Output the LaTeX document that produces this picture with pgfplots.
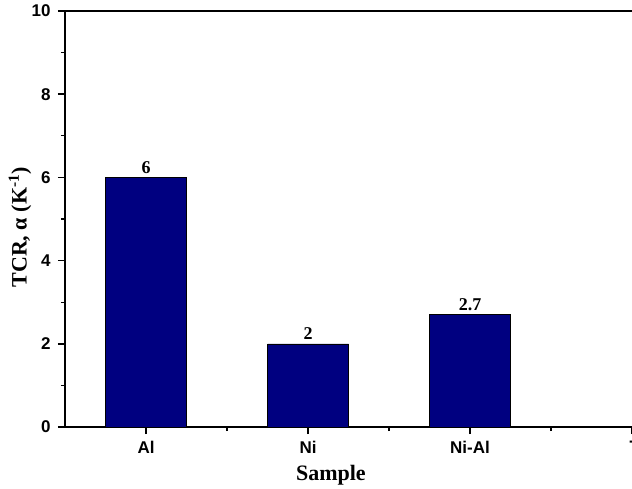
\documentclass[border=0pt]{standalone}
\usepackage{fontspec}
\setmainfont{Liberation Serif}
\newfontfamily\arial{Liberation Sans}
\usepackage{pgfplots}
\pgfplotsset{compat=1.18}
\definecolor{navybar}{RGB}{0,0,128}
\begin{document}
\begin{tikzpicture}
\begin{axis}[
  at={(65pt,61pt)}, anchor=south west,
  width=567pt, height=416pt, scale only axis,
  xmin=-0.5, xmax=3, ymin=0, ymax=10,
  clip=false,
  ybar, bar width=0.5,
  axis lines=left, axis line style={-, line width=1.4pt},
  xtick={0,1,2,3}, xticklabels={Al,Ni,Ni-Al,-},
  ytick={0,2,4,6,8,10},
  minor x tick num=1, minor y tick num=1,
  tick align=outside,
  major tick length=7pt, minor tick length=4pt,
  every tick/.style={line width=1.4pt, black},
  /pgf/number format/assume math mode=true,
  ticklabel style={font=\arial\bfseries\fontsize{17}{17}\selectfont},
  xticklabel style={yshift=-4pt},
  yticklabel style={xshift=-4pt},
  xlabel={Sample},
  ylabel={TCR, α (K\textsuperscript{-1})},
  label style={font=\bfseries\fontsize{22}{22}\selectfont},
  xlabel style={at={(rel axis cs:0.469,0)}, anchor=base, yshift=-53pt},
  ylabel style={at={(rel axis cs:0,0.48)}, anchor=center, yshift=45pt},
]
\addplot[fill=navybar, draw=black, line width=0.5pt,
  nodes near coords, point meta=explicit symbolic,
  every node near coord/.append style={font=\bfseries\fontsize{18}{18}\selectfont, anchor=base, yshift=4pt, inner sep=0pt}]
  coordinates {(0,6)[6] (1,2)[2] (2,2.7)[2.7]};
\draw[line width=1.4pt] (rel axis cs:0,1) -- (rel axis cs:1,1);
\end{axis}
\pgfresetboundingbox
\useasboundingbox (0,0) rectangle (632pt,488pt);
\end{tikzpicture}
\end{document}
